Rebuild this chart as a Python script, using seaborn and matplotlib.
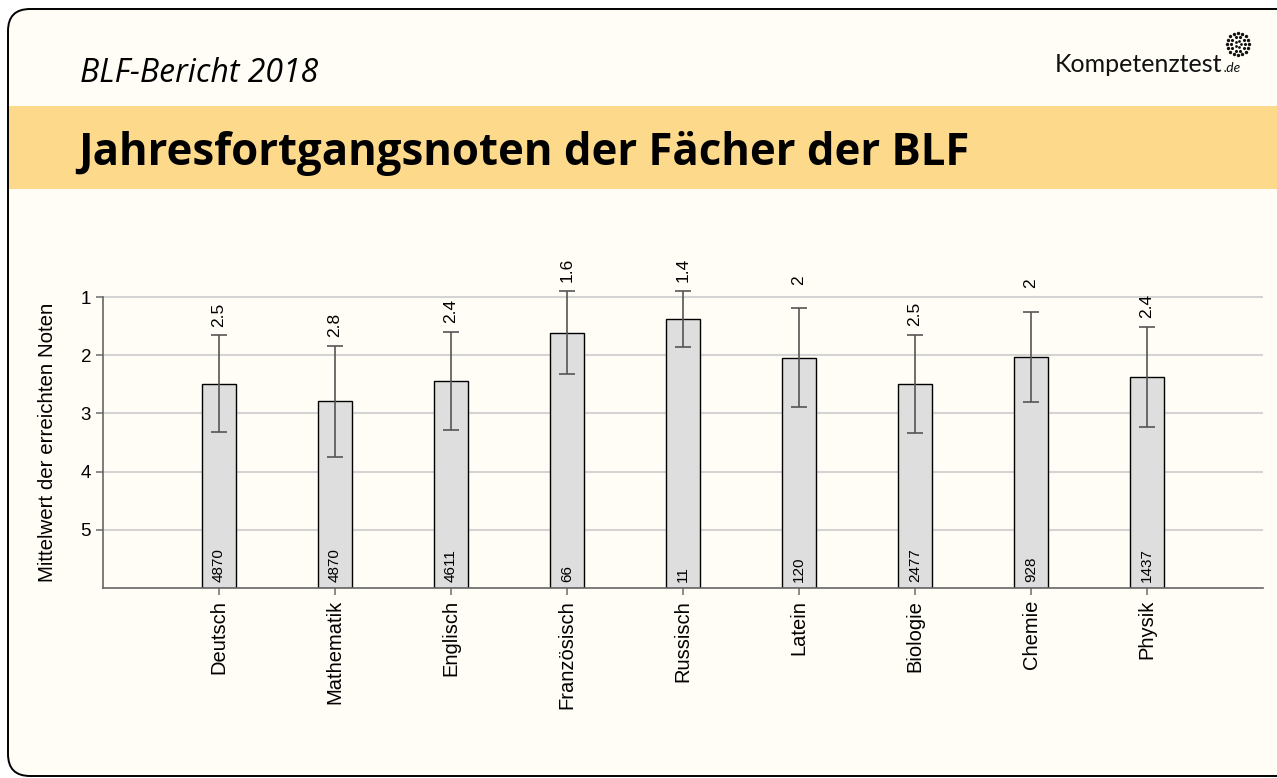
import numpy as np
import pandas as pd
import seaborn as sns
import matplotlib.pyplot as plt
from matplotlib.patches import FancyBboxPatch, Rectangle

# data
subjects = ["Deutsch", "Mathematik", "Englisch", "Französisch", "Russisch",
            "Latein", "Biologie", "Chemie", "Physik"]
means = [2.49, 2.79, 2.44, 1.61, 1.38, 2.04, 2.49, 2.03, 2.38]
sds = [0.83, 0.95, 0.84, 0.72, 0.48, 0.85, 0.84, 0.78, 0.86]
counts = [4870, 4870, 4611, 66, 11, 120, 2477, 928, 1437]
grade_ticks = [1, 2, 3, 4, 5]
worst = 6  # bars grow from grade 6 upwards

sns.set_theme(style="white")
plt.rcParams["font.family"] = ["Liberation Sans", "DejaVu Sans"]
plt.rcParams["text.color"] = "black"
plt.rcParams["axes.labelcolor"] = "black"

bg = "#FFFDF5"
band = "#FDD98B"
W, H = 1277, 778

fig = plt.figure(figsize=(W / 100, H / 100), dpi=100)
fig.patch.set_facecolor("white")

# page decoration: rounded frame, header band, logo
deco = fig.add_axes([0, 0, 1, 1], zorder=-1)
deco.set_xlim(0, W)
deco.set_ylim(H, 0)
deco.axis("off")
deco.add_patch(FancyBboxPatch((8, 9), 1320, 767, boxstyle="round,pad=0,rounding_size=22",
                              fc=bg, ec="none"))
deco.add_patch(Rectangle((8, 106), 1320, 83, fc=band, ec="none"))
deco.add_patch(FancyBboxPatch((8, 9), 1320, 767, boxstyle="round,pad=0,rounding_size=22",
                              fc="none", ec="black", lw=1.4))

fig.text(80 / W, 1 - 82 / H, "BLF-Bericht 2018", fontsize=23, style="italic",
         family=["Open Sans", "DejaVu Sans"], va="baseline", color="black")
fig.text(78 / W, 1 - 165 / H, "Jahresfortgangsnoten der Fächer der BLF", fontsize=31.5,
         weight="bold", family=["Open Sans", "DejaVu Sans"], va="baseline", color="black")
fig.text(1055 / W, 1 - 72 / H, "Kompetenztest", fontsize=18,
         family=["Lato", "DejaVu Sans"], va="baseline", color="#111111")
fig.text(1224 / W, 1 - 72 / H, ".de", fontsize=10, style="italic",
         family=["Lato", "DejaVu Sans"], va="baseline", color="#111111")
for r, n, s in [(11, 16, 6), (7, 10, 5), (3, 5, 4)]:
    ang = np.linspace(0, 2 * np.pi, n, endpoint=False)
    deco.scatter(1238 + r * np.cos(ang), 44 + r * np.sin(ang), s=s, color="#111111", lw=0)

# chart
ax = fig.add_axes([103 / W, 1 - 588 / H, (1263 - 103) / W, (588 - 268) / H])
ax.set_facecolor("none")

df = pd.DataFrame({"Fach": subjects, "Hoehe": [worst - m for m in means],
                   "SD": sds, "N": counts, "Mittel": means})

ax.yaxis.grid(True, color="#D4D4D4", lw=1.5, zorder=0)
ax.set_axisbelow(True)

sns.barplot(data=df, x="Fach", y="Hoehe", order=subjects, color="#DEDEDE",
            saturation=1, edgecolor="black", linewidth=1, width=0.29,
            errorbar=None, ax=ax, zorder=2)
ax.errorbar(np.arange(len(subjects)), df["Hoehe"], yerr=df["SD"], fmt="none",
            ecolor="#555555", elinewidth=1.2, capsize=6, capthick=1.2,
            clip_on=False, zorder=3)

for i, row in df.iterrows():
    top = row["Hoehe"] + row["SD"]
    ax.text(i, top + 0.57, f"{round(row['Mittel'], 1):g}", rotation=90,
            ha="center", va="top", fontsize=12.5, color="black", clip_on=False)
    ax.text(i, 0.1, str(row["N"]), rotation=90, ha="center", va="bottom",
            fontsize=11, color="black")

ax.set_xlim(-1, len(subjects))
ax.set_ylim(0, 5.5)
ax.set_yticks([worst - g for g in grade_ticks])
ax.set_yticklabels([str(g) for g in grade_ticks], fontsize=13.5)
ax.tick_params(axis="x", labelsize=14.5, rotation=90, bottom=True, length=5,
               color="#777777", width=1.2, labelcolor="black")
ax.tick_params(axis="y", left=True, length=5, color="#777777", width=1.2,
               labelcolor="black")
ax.set_xlabel("")
ax.set_ylabel("Mittelwert der erreichten Noten", fontsize=14.8)
ax.yaxis.set_label_coords(-0.04, 2.5 / 5.5)

for side in ["top", "right"]:
    ax.spines[side].set_visible(False)
for side in ["left", "bottom"]:
    ax.spines[side].set_color("#666666")
    ax.spines[side].set_linewidth(1.2)
ax.spines["left"].set_bounds(0, 5)

fig.savefig("out.png", dpi=100, facecolor=fig.get_facecolor())
